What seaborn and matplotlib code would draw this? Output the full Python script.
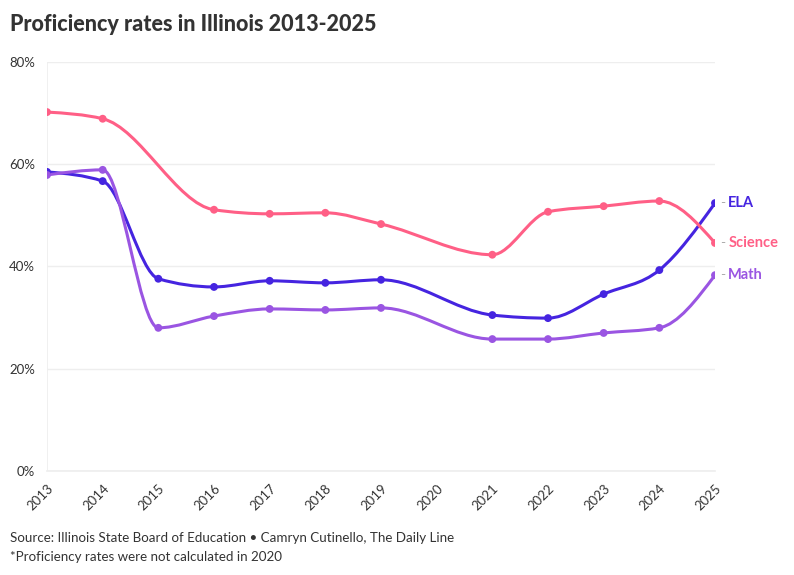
import numpy as np
import pandas as pd
import matplotlib
matplotlib.use("Agg")
import matplotlib.pyplot as plt
from matplotlib.path import Path
from matplotlib.patches import PathPatch
from matplotlib.ticker import PercentFormatter
import seaborn as sns

# data (2020 not calculated, no science point for 2015)
years = [2013, 2014, 2015, 2016, 2017, 2018, 2019, 2021, 2022, 2023, 2024, 2025]
ela = [58.5, 56.7, 37.6, 36.0, 37.2, 36.8, 37.4, 30.5, 29.9, 34.6, 39.3, 52.4]
science = [70.2, 68.9, None, 51.1, 50.3, 50.5, 48.3, 42.3, 50.7, 51.8, 52.8, 44.6]
math = [57.9, 58.9, 28.0, 30.3, 31.7, 31.5, 31.9, 25.8, 25.8, 27.0, 28.0, 38.3]
subjects = ["ELA", "Science", "Math"]
colors = {"ELA": "#4524e0", "Science": "#ff5f86", "Math": "#9a55e2"}
tick_years = list(range(2013, 2026))

rows = []
for name, vals in zip(subjects, [ela, science, math]):
    for y, v in zip(years, vals):
        if v is not None:
            rows.append({"year": y, "subject": name, "rate": v})
df = pd.DataFrame(rows)


def monotone_path(xs, ys):
    # d3 curveMonotoneX as cubic bezier segments
    xs = np.asarray(xs, float)
    ys = np.asarray(ys, float)
    n = len(xs)
    h = np.diff(xs)
    s = np.diff(ys) / h
    t = np.zeros(n)
    for i in range(1, n - 1):
        p = (s[i - 1] * h[i] + s[i] * h[i - 1]) / (h[i - 1] + h[i])
        t[i] = (np.sign(s[i - 1]) + np.sign(s[i])) * min(abs(s[i - 1]), abs(s[i]), 0.5 * abs(p))
    t[0] = (3 * s[0] - t[1]) / 2
    t[-1] = (3 * s[-1] - t[-2]) / 2
    verts = [(xs[0], ys[0])]
    codes = [Path.MOVETO]
    for i in range(n - 1):
        dx = h[i] / 3
        verts += [(xs[i] + dx, ys[i] + dx * t[i]),
                  (xs[i + 1] - dx, ys[i + 1] - dx * t[i + 1]),
                  (xs[i + 1], ys[i + 1])]
        codes += [Path.CURVE4] * 3
    return Path(verts, codes)


sns.set_theme(style="white")
plt.rcParams["font.family"] = ["Lato", "DejaVu Sans"]

fig = plt.figure(figsize=(7.94, 5.75), dpi=100)
ax = fig.add_axes([0.0592, 0.1809, 0.8413, 0.7113])

for name in subjects:
    sub = df[df.subject == name]
    ax.add_patch(PathPatch(monotone_path(sub.year, sub.rate), fill=False,
                           edgecolor=colors[name], lw=2.2, zorder=3,
                           capstyle="round", joinstyle="round"))

sns.scatterplot(data=df, x="year", y="rate", hue="subject", palette=colors,
                s=32, edgecolor="none", legend=False, zorder=4, ax=ax)

for name in subjects:
    last = df[df.subject == name].iloc[-1]
    ax.annotate("-", (last.year, last.rate), xytext=(4, 0), textcoords="offset points",
                va="center", ha="left", fontsize=10, color="#aaaaaa")
    ax.annotate(name, (last.year, last.rate), xytext=(9.5, 0), textcoords="offset points",
                va="center", ha="left", fontsize=10.5, fontweight="bold", color=colors[name])

ax.set_xlim(2013, 2025)
ax.set_ylim(0, 80)
ax.set_xticks(tick_years)
ax.set_xticklabels([str(y) for y in tick_years], rotation=45, ha="right",
                   rotation_mode="anchor", fontsize=9.5, color="#333333")
ax.set_yticks([0, 20, 40, 60, 80])
ax.yaxis.set_major_formatter(PercentFormatter(decimals=0))
ax.tick_params(axis="y", labelsize=9.5, labelcolor="#333333", length=5, color="#dddddd", width=1)
ax.tick_params(axis="x", length=4, color="#dddddd", width=1, pad=4)
ax.grid(axis="y", color="#eeeeee", lw=1)
ax.axvline(2013, color="#eeeeee", lw=1.2, zorder=0)
for sp in ["top", "right", "left"]:
    ax.spines[sp].set_visible(False)
ax.spines["bottom"].set_color("#eeeeee")
ax.set_xlabel("")
ax.set_ylabel("")

fig.text(0.0126, 0.957, "Proficiency rates in Illinois 2013-2025", fontsize=15.5,
         fontweight=900, color="#333333", va="center")
fig.text(0.0126, 0.064, "Source: Illinois State Board of Education \u2022 Camryn Cutinello, The Daily Line",
         fontsize=9.6, color="#333333", va="center")
fig.text(0.0126, 0.031, "*Proficiency rates were not calculated in 2020",
         fontsize=9.6, color="#333333", va="center")

fig.savefig("out.png", dpi=100)
